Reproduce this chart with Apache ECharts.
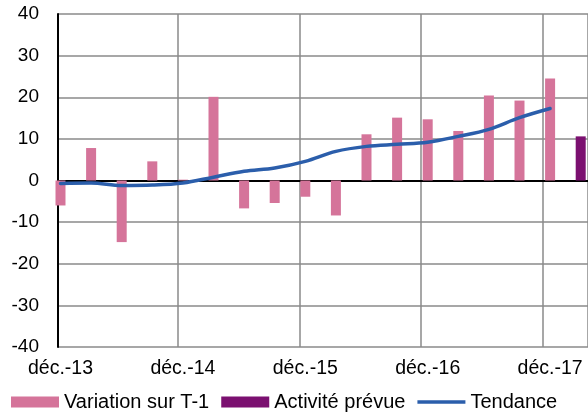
<!DOCTYPE html>
<html>
<head>
<meta charset="utf-8">
<script src="https://cdn.jsdelivr.net/npm/echarts@6/dist/echarts.min.js"></script>
<style>
html,body{margin:0;padding:0;background:#fff;}
#chart{width:588px;height:417px;}
</style>
</head>
<body>
<div id="chart"></div>
<script>
// ---- data ----
const categories = ['déc.-13','mars-14','juin-14','sept.-14','déc.-14','mars-15','juin-15','sept.-15','déc.-15','mars-16','juin-16','sept.-16','déc.-16','mars-17','juin-17','sept.-17','déc.-17','mars-18'];
const variation = [-6.0, 7.8, -14.8, 4.6, 0.2, 20.1, -6.7, -5.4, -3.9, -8.4, 11.1, 15.1, 14.7, 11.9, 20.4, 19.2, 24.5, null];
const prevue = [null, null, null, null, null, null, null, null, null, null, null, null, null, null, null, null, null, 10.6];
const tendance = [-0.7, -0.6, -1.2, -1.1, -0.6, 0.8, 2.2, 3.0, 4.6, 7.0, 8.2, 8.7, 9.2, 10.6, 12.3, 15.1, 17.3, null];
const yMin = -40, yMax = 40, yStep = 10;
const seriesNames = ['Variation sur T-1', 'Activité prévue', 'Tendance'];

// ---- layout ----
const FONT = 'Liberation Sans, Arial, sans-serif';
const TOP = 14, BOTTOM = 70;
const STEP = 30.6;           // px per quarter
const G0 = 55.5;             // left edge of first quarter's bar
const firstCenter = G0 + 5;
const lastCenter = firstCenter + STEP * (categories.length - 1);

const chart = echarts.init(document.getElementById('chart'));
chart.setOption({
  animation: false,
  backgroundColor: '#fff',
  grid: [
    { left: 58, right: -3, top: TOP, bottom: BOTTOM },
    { left: G0 + 4 * STEP, right: 588 - (G0 + 17.5 * STEP), top: TOP, bottom: BOTTOM },
    { left: firstCenter, right: 588 - lastCenter, top: TOP, bottom: BOTTOM }
  ],
  xAxis: [
    { gridIndex: 0, type: 'value', min: 0, max: 1,
      axisLine: { show: true, onZero: true, lineStyle: { color: '#000', width: 2 } },
      axisTick: { show: false }, axisLabel: { show: false }, splitLine: { show: false } },
    { gridIndex: 1, type: 'value', min: 4, max: 17.5, interval: 4,
      axisLine: { show: false }, axisTick: { show: false }, axisLabel: { show: false },
      splitLine: { show: true, lineStyle: { color: '#8a8a8a', width: 1.5 } } },
    { gridIndex: 2, type: 'category', data: categories, boundaryGap: false,
      axisLine: { show: false }, axisTick: { show: false }, splitLine: { show: false },
      axisLabel: { interval: 3, margin: 12, color: '#000', fontSize: 19.5, fontFamily: FONT } }
  ],
  yAxis: [
    { gridIndex: 0, type: 'value', min: yMin, max: yMax, interval: yStep,
      axisLine: { show: true, lineStyle: { color: '#000', width: 2 } },
      axisTick: { show: false },
      axisLabel: { margin: 19, color: '#000', fontSize: 19, fontFamily: FONT },
      splitLine: { show: true, lineStyle: { color: '#8a8a8a', width: 1.5 } } },
    { gridIndex: 1, type: 'value', min: yMin, max: yMax, show: false },
    { gridIndex: 2, type: 'value', min: yMin, max: yMax, show: false }
  ],
  legend: {
    left: 11, top: 392, padding: 0,
    itemWidth: 48, itemHeight: 11, itemGap: 12, symbolKeepAspect: true,
    textStyle: { color: '#000', fontSize: 20, fontFamily: FONT },
    data: [
      { name: seriesNames[0], icon: 'rect' },
      { name: seriesNames[1], icon: 'rect' },
      { name: seriesNames[2], icon: 'path://M0,0H48V3.5H0Z' }
    ]
  },
  series: [
    { name: seriesNames[0], type: 'bar', xAxisIndex: 2, yAxisIndex: 2, stack: 'b',
      barWidth: 10, data: variation, itemStyle: { color: '#d5749a' } },
    { name: seriesNames[1], type: 'bar', xAxisIndex: 2, yAxisIndex: 2, stack: 'b',
      barWidth: 10, data: prevue, itemStyle: { color: '#7b1070' } },
    { name: seriesNames[2], type: 'line', xAxisIndex: 2, yAxisIndex: 2,
      data: tendance, smooth: 0.35, symbol: 'none', z: 5,
      lineStyle: { color: '#2b5eab', width: 3.5, cap: 'round' }, itemStyle: { color: '#2b5eab' } }
  ]
});
</script>
</body>
</html>
